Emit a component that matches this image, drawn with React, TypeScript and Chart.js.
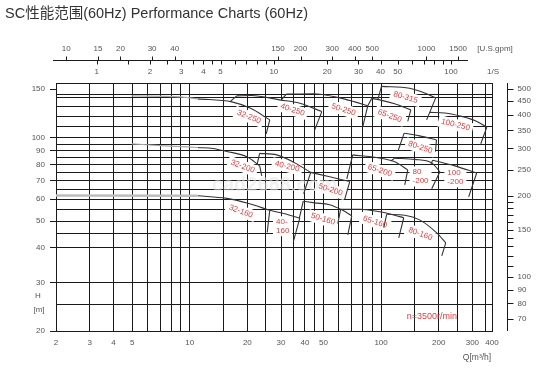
import React, { useEffect, useRef } from 'react';
import { Chart, registerables } from 'chart.js';

Chart.register(...registerables);

type P = [number, number];

const FONT = '"Liberation Sans", Arial, Helvetica, sans-serif';
const TITLE_FONT = '"Liberation Sans", "Noto Sans CJK SC", sans-serif';

// ---- texts ----
const TITLE = 'SC性能范围(60Hz) Performance Charts (60Hz)';
const X_TITLE = 'Q[m³/h]';
const Y_TITLE = ['H', '[m]'];
const SPEED_TEXT = 'n=3500r/min';
const WATERMARK = 'cad2688.com';
const GPM_UNIT = '[U.S.gpm]';
const LPS_UNIT = '1/S';

// ---- main axes ----
const Q_MIN = 2;
const Q_MAX = 380;
const H_MIN = 20;
const H_MAX = 158;
const Q_GRID = [2, 3, 4, 5, 6, 7, 8, 9, 10, 15, 20, 25, 30, 35, 40, 45, 50, 60, 70, 80, 90, 100, 150, 200, 250, 300, 350, 380];
const Q_LABELS: Record<number, string> = { 2: '2', 3: '3', 4: '4', 5: '5', 10: '10', 20: '20', 30: '30', 40: '40', 50: '50', 100: '100', 200: '200', 300: '300', 380: '400' };
const H_GRID = [20, 25, 30, 40, 45, 50, 55, 60, 65, 70, 75, 80, 85, 90, 95, 100, 110, 120, 130, 140, 143, 150, 158];
const H_LABELS: Record<number, string> = { 20: '20', 30: '30', 40: '40', 50: '50', 60: '60', 70: '70', 80: '80', 90: '90', 100: '100', 150: '150' };

// ---- secondary scales ----
const FT_RANGE = [63.2, 524.6];
const FT_LABELS = [70, 80, 90, 100, 150, 200, 250, 300, 350, 400, 450, 500];
const FT_MINOR = [110, 120, 130, 140, 160, 170, 180, 190];
const GPM_RANGE = [8.78, 2312];
const GPM_LINE = [8.45, 1700];
const GPM_LABELS = [10, 15, 20, 30, 40, 150, 200, 300, 400, 500, 1000, 1500];
const LPS_RANGE = [0.5888, 170.4];
const LPS_LABELS = [1, 2, 3, 4, 5, 10, 20, 30, 40, 50, 100];
const LPS_MINOR = [1.5, 2.5, 3.5, 4.5, 6, 7, 8, 9, 60, 70, 80, 90];

// ---- pump curves (Q m3/h, H m) ----
const C_32_250_EXT: P[] = [[4.97, 141.9], [8.86, 140.8], [11.0, 138.4]];
const C_32_250: P[] = [[11.0, 138.4], [16.6, 135.0], [20.8, 127.9], [26.2, 116.2]];
const C_40_250: P[] = [[17.6, 141.9], [21.0, 142.4], [29.5, 137.3], [37.6, 133.5], [49.0, 124.5]];
const C_50_250: P[] = [[32.0, 144.0], [44.1, 144.5], [60.8, 139.6], [72.8, 135.0], [85.2, 130.6]];
const C_65_250: P[] = [[89.4, 139.0], [98.4, 137.3], [117.8, 132.8], [143, 126.3]];
const C_80_315: P[] = [[100.5, 153.6], [141, 151.3], [169, 145.5], [193, 139.6]];
const C_100_250: P[] = [[180, 123.7], [215, 123.1], [267, 119.4], [312.6, 115.2], [357, 109.4]];
const C_80_250: P[] = [[132, 104.0], [159, 101.7], [194.8, 98.3]];

const C_32_200_EXT: P[] = [[4.97, 95.2], [7.4, 93.6], [11.0, 92.3]];
const C_32_200: P[] = [[11.0, 92.3], [13.2, 91.5], [15.6, 89.3], [19.9, 85.4], [23.2, 79.2]];
const C_40_200: P[] = [[23.2, 87.9], [28.5, 86.8], [35.4, 81.2], [42.9, 75.0]];
const C_50_200: P[] = [[42.9, 75.0], [53.9, 72.3], [68.6, 69.5]];
const C_65_200: P[] = [[71.1, 86.8], [96.1, 84.7], [117.8, 81.9], [137.9, 76.6]];
const C_80_200: P[] = [[117.8, 84.5], [150, 83.6], [184, 81.2], [203, 75.4]];
const C_100_200: P[] = [[186, 83.0], [243, 79.2], [316, 74.6]];

const C_32_160_EXT: P[] = [[2, 61.9], [11.0, 61.7]];
const C_32_160: P[] = [[11.0, 61.7], [15.6, 60.4], [20.1, 58.0], [26.2, 54.7]];
const C_40_160: P[] = [[26.2, 54.7], [31.4, 53.1], [37.6, 51.2]];
const C_50_160: P[] = [[39.2, 59.0], [45.0, 58.2], [53.9, 57.3], [62.3, 54.9], [70.3, 52.2]];
const C_65_160: P[] = [[61.5, 55.2], [77.4, 55.2], [98.4, 54.0], [117.8, 52.5], [131.4, 51.4]];
const C_80_160: P[] = [[107, 52.9], [133, 52.5], [159, 50.5], [195.4, 45.3], [217.8, 41.7]];

const CURVES: P[][] = [
  C_32_250, C_40_250, C_50_250, C_65_250, C_80_315, C_100_250, C_80_250,
  C_32_200, C_40_200, C_50_200, C_65_200, C_80_200, C_100_200,
  C_32_160, C_40_160, C_50_160, C_65_160, C_80_160,
];
const THIN_EXT: P[][] = [C_32_250_EXT, C_32_200_EXT];
const THICK_EXT: P[][] = [C_32_160_EXT];

// ---- region side edges (pairs of points) ----
const EDGES_250: P[][] = [
  [[26.2, 116.2], [25.1, 103.4]],
  [[16.2, 135.0], [17.6, 141.9]],
  [[49.0, 124.5], [45.0, 106.9]],
  [[30.1, 137.2], [32.0, 144.0]],
  [[85.2, 130.6], [80.2, 109.6]],
  [[85.2, 130.6], [89.4, 139.0]],
  [[143, 126.3], [137.9, 114.8]],
  [[96.1, 137.3], [100.5, 153.6]],
  [[193, 139.6], [173, 116.2]],
  [[357, 109.4], [332, 95.2]],
  [[122.7, 89.7], [132, 104.0]],
  [[194.8, 98.3], [192.4, 89.2]],
];
const EDGES_200: P[][] = [
  [[23.2, 79.2], [23.8, 72.9]],
  [[22.5, 80.3], [23.2, 87.9]],
  [[39.4, 62.8], [42.9, 75.0]],
  [[68.6, 69.5], [64.6, 60.0]],
  [[66.2, 71.1], [71.1, 86.8]],
  [[137.9, 76.6], [133, 67.6]],
  [[112.4, 82.5], [117.8, 84.5]],
  [[203, 75.4], [184, 65.4]],
  [[181.8, 80.0], [186, 83.0]],
  [[316, 74.6], [287, 61.2]],
];
const EDGES_160: P[][] = [
  [[26.2, 54.7], [25.4, 45.5]],
  [[37.6, 51.2], [34.8, 42.1]],
  [[37.4, 51.2], [39.2, 59.0]],
  [[70.3, 52.2], [67.0, 44.6]],
  [[59.4, 48.9], [61.5, 55.2]],
  [[131.4, 51.4], [123.7, 43.5]],
  [[103.3, 47.3], [107, 52.9]],
  [[217.8, 41.7], [207.6, 37.4]],
];

// ---- model labels ----
const LABEL_TEXT = ['32-250', '40-250', '50-250', '65-250', '80-315', '100-250', '80-250', '32-200', '40-200', '50-200', '65-200', '80\n-200', '100\n-200', '32-160', '40-\n160', '50-160', '65-160', '80-160'];
const LABEL_Q = [20.4, 34.5, 63.7, 111, 134.3, 245, 160.5, 18.9, 32.3, 54.4, 98.4, 160.8, 244.4, 18.5, 30.6, 49.7, 93.1, 160.5];
const LABEL_H = [119.1, 126.3, 126.4, 120, 140.2, 111.5, 92.4, 78.8, 78.8, 64.9, 76.2, 72.5, 72.0, 54.2, 47.9, 50.8, 49.6, 44.9];
const LABEL_ANGLE = [22, 18, 18, 20, 16, 14, 18, 20, 14, 18, 18, 0, 0, 20, 0, 17, 18, 20];
const SPEED_POS = [184.1, 22.6];
const WATERMARK_POS = [27.8, 67.1];

const RED = '#e23b3b';
const GRID = '#1a1a1a';
const TEXT = '#555';
const LABEL_LINE = 8.5;

const toXY = (pts: P[]) => pts.map(([x, y]) => ({ x, y }));
const edgeData = (edges: P[][]) => {
  const out: any[] = [];
  edges.forEach((e) => {
    out.push({ x: e[0][0], y: e[0][1] }, { x: e[1][0], y: e[1][1] }, { x: e[1][0], y: null });
  });
  return out;
};

const decorPlugin = {
  id: 'pumpDecor',
  beforeDatasetsDraw(chart: any) {
    const { ctx, scales } = chart;
    const x = scales.x;
    const y = scales.y;
    ctx.save();
    ctx.font = `8px ${FONT}`;
    ctx.fillStyle = '#fff';
    LABEL_TEXT.forEach((t, i) => {
      const lines = t.split('\n');
      const w = Math.max(...lines.map((l) => ctx.measureText(l).width));
      const h = lines.length * LABEL_LINE;
      ctx.save();
      ctx.translate(x.getPixelForValue(LABEL_Q[i]), y.getPixelForValue(LABEL_H[i]));
      ctx.rotate((LABEL_ANGLE[i] * Math.PI) / 180);
      ctx.fillRect(-w / 2 - 3, -h / 2 - 1.5, w + 6, h + 3);
      ctx.restore();
    });
    ctx.font = `bold 20px ${FONT}`;
    ctx.fillStyle = 'rgba(228,228,228,0.55)';
    ctx.textAlign = 'center';
    ctx.textBaseline = 'middle';
    ctx.fillText(WATERMARK, x.getPixelForValue(WATERMARK_POS[0]), y.getPixelForValue(WATERMARK_POS[1]));
    ctx.restore();
  },
  afterDatasetsDraw(chart: any) {
    const { ctx, scales } = chart;
    const x = scales.x;
    const y = scales.y;
    ctx.save();
    ctx.font = `8px ${FONT}`;
    ctx.fillStyle = RED;
    ctx.textBaseline = 'middle';
    LABEL_TEXT.forEach((t, i) => {
      const lines = t.split('\n');
      const w = Math.max(...lines.map((l) => ctx.measureText(l).width));
      ctx.save();
      ctx.translate(x.getPixelForValue(LABEL_Q[i]), y.getPixelForValue(LABEL_H[i]));
      ctx.rotate((LABEL_ANGLE[i] * Math.PI) / 180);
      if (lines.length === 1) {
        ctx.textAlign = 'center';
        ctx.fillText(t, 0, 0);
      } else {
        ctx.textAlign = 'left';
        lines.forEach((l, k) => {
          ctx.fillText(l, -w / 2, (k - (lines.length - 1) / 2) * LABEL_LINE);
        });
      }
      ctx.restore();
    });
    ctx.font = `9px ${FONT}`;
    ctx.textAlign = 'center';
    ctx.fillText(SPEED_TEXT, x.getPixelForValue(SPEED_POS[0]), y.getPixelForValue(SPEED_POS[1]));
    ctx.restore();
  },
  afterDraw(chart: any) {
    const { ctx, scales, chartArea: ca } = chart;
    const gpm = scales.gpm;
    const lps = scales.lps;
    const ft = scales.ft;
    ctx.save();
    // title
    ctx.font = `14.5px ${TITLE_FONT}`;
    ctx.fillStyle = '#333';
    ctx.textAlign = 'left';
    ctx.textBaseline = 'middle';
    ctx.fillText(TITLE, 5, 14);

    // top scales
    const ly = Math.round(ca.top - 23) + 0.5;
    ctx.strokeStyle = GRID;
    ctx.lineWidth = 1;
    ctx.beginPath();
    ctx.moveTo(gpm.getPixelForValue(GPM_LINE[0]), ly);
    ctx.lineTo(gpm.getPixelForValue(GPM_LINE[1]), ly);
    GPM_LABELS.forEach((v) => {
      const px = Math.round(gpm.getPixelForValue(v)) + 0.5;
      ctx.moveTo(px, ly);
      ctx.lineTo(px, ly - 4);
    });
    [...LPS_LABELS, ...LPS_MINOR].forEach((v) => {
      const px = Math.round(lps.getPixelForValue(v)) + 0.5;
      ctx.moveTo(px, ly);
      ctx.lineTo(px, ly + 4);
    });
    ctx.stroke();
    ctx.font = `8px ${FONT}`;
    ctx.fillStyle = TEXT;
    ctx.textAlign = 'center';
    GPM_LABELS.forEach((v) => ctx.fillText(String(v), gpm.getPixelForValue(v), ly - 12));
    LPS_LABELS.forEach((v) => ctx.fillText(String(v), lps.getPixelForValue(v), ly + 11));
    ctx.fillText(GPM_UNIT, ca.right + 3, ly - 12);
    ctx.fillText(LPS_UNIT, ca.right + 1, ly + 11);

    // right feet scale
    const ax = Math.round(ca.right + 15) + 0.5;
    ctx.beginPath();
    ctx.moveTo(ax, ca.top);
    ctx.lineTo(ax, ca.bottom);
    [...FT_LABELS, ...FT_MINOR].forEach((v) => {
      const py = Math.round(ft.getPixelForValue(v)) + 0.5;
      ctx.moveTo(ax, py);
      ctx.lineTo(ax + 6, py);
    });
    ctx.stroke();
    ctx.textAlign = 'left';
    FT_LABELS.forEach((v) => ctx.fillText(String(v), ax + 10, ft.getPixelForValue(v)));

    // axis titles
    ctx.textAlign = 'center';
    ctx.font = `8px ${FONT}`;
    ctx.fillText(Y_TITLE[0], ca.left - 18, ca.bottom - 35);
    ctx.fillText(Y_TITLE[1], ca.left - 17, ca.bottom - 21);
    ctx.font = `8.5px ${FONT}`;
    ctx.fillText(X_TITLE, ca.right - 15, ca.bottom + 27);
    ctx.restore();
  },
};

export default function App() {
  const ref = useRef<HTMLCanvasElement>(null);
  useEffect(() => {
    const canvas = ref.current;
    if (!canvas) return;
    const lineDs = (pts: P[], color: string, width: number, mono: boolean) => ({
      data: toXY(pts),
      borderColor: color,
      borderWidth: width,
      pointRadius: 0,
      fill: false,
      tension: mono ? 0.4 : 0,
      cubicInterpolationMode: mono ? 'monotone' : 'default',
      xAxisID: 'x',
      yAxisID: 'y',
    });
    const datasets: any[] = [
      ...THICK_EXT.map((c) => lineDs(c, '#bdbdbd', 2.5, false)),
      ...THIN_EXT.map((c) => lineDs(c, '#a8a8a8', 1.2, true)),
      ...CURVES.map((c) => lineDs(c, '#333', 1.1, true)),
      {
        data: edgeData([...EDGES_250, ...EDGES_200, ...EDGES_160]),
        borderColor: '#333',
        borderWidth: 1.1,
        pointRadius: 0,
        fill: false,
        tension: 0,
        spanGaps: false,
        xAxisID: 'x',
        yAxisID: 'y',
      },
    ];
    const chart = new Chart(canvas, {
      type: 'line',
      data: { datasets },
      plugins: [decorPlugin],
      options: {
        animation: false,
        responsive: false,
        devicePixelRatio: 1,
        events: [],
        layout: { padding: { left: 16, right: 58, top: 83, bottom: 22 } },
        plugins: { legend: { display: false }, tooltip: { enabled: false }, title: { display: false } },
        scales: {
          x: {
            type: 'logarithmic',
            position: 'bottom',
            min: Q_MIN,
            max: Q_MAX,
            bounds: 'data',
            afterBuildTicks: (s: any) => {
              s.ticks = Q_GRID.map((v) => ({ value: v }));
            },
            afterFit: (s: any) => {
              s.height = 20;
              s.paddingLeft = 0;
              s.paddingRight = 0;
            },
            ticks: {
              autoSkip: false,
              maxRotation: 0,
              minRotation: 0,
              padding: 7,
              color: TEXT,
              font: { size: 8, family: FONT },
              major: { enabled: false },
              callback: (v: any) => Q_LABELS[v as number] ?? '',
            },
            grid: { color: GRID, lineWidth: 1, drawTicks: false },
            border: { display: true, color: GRID, width: 1 },
          },
          y: {
            type: 'logarithmic',
            position: 'left',
            min: H_MIN,
            max: H_MAX,
            bounds: 'data',
            afterBuildTicks: (s: any) => {
              s.ticks = H_GRID.map((v) => ({ value: v }));
            },
            afterFit: (s: any) => {
              s.width = 40;
              s.paddingTop = 0;
              s.paddingBottom = 0;
            },
            ticks: {
              autoSkip: false,
              padding: 5,
              color: TEXT,
              font: { size: 8, family: FONT },
              major: { enabled: false },
              callback: (v: any) => H_LABELS[v as number] ?? '',
            },
            grid: {
              color: (c: any) => (c.tick && c.tick.value === 150 ? 'rgba(0,0,0,0)' : GRID),
              tickColor: (c: any) => (c.tick && H_LABELS[c.tick.value] ? GRID : 'rgba(0,0,0,0)'),
              tickLength: 6,
              lineWidth: 1,
            },
            border: { display: true, color: GRID, width: 1 },
          },
          gpm: {
            type: 'logarithmic',
            axis: 'x',
            position: 'top',
            display: false,
            bounds: 'data',
            min: GPM_RANGE[0],
            max: GPM_RANGE[1],
          },
          lps: {
            type: 'logarithmic',
            axis: 'x',
            position: 'top',
            display: false,
            bounds: 'data',
            min: LPS_RANGE[0],
            max: LPS_RANGE[1],
          },
          ft: {
            type: 'logarithmic',
            axis: 'y',
            position: 'right',
            display: false,
            bounds: 'data',
            min: FT_RANGE[0],
            max: FT_RANGE[1],
          },
        } as any,
      },
    } as any);
    return () => chart.destroy();
  }, []);
  return (
    <div style={{ position: 'fixed', left: 0, top: 0, width: 550, height: 373, background: '#fff' }}>
      <canvas ref={ref} width={550} height={373} style={{ display: 'block', width: 550, height: 373 }} />
    </div>
  );
}
